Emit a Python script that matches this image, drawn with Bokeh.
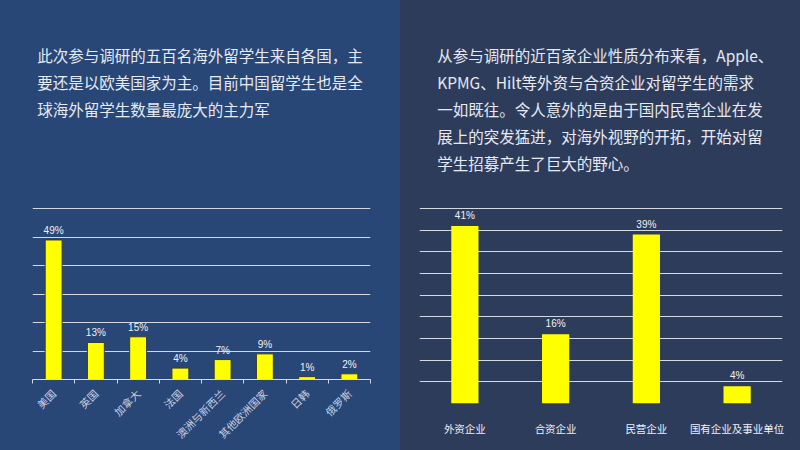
import math
from bokeh.plotting import figure
from bokeh.layouts import row, column
from bokeh.models import Range1d, FactorRange, ColumnDataSource, LabelSet, FixedTicker, SingleIntervalTicker
from bokeh.core.properties import value
from bokeh.embed import file_html
from bokeh.resources import INLINE

# ---------------- data ----------------
left_text = [
    "此次参与调研的五百名海外留学生来自各国，主",
    "要还是以欧美国家为主。目前中国留学生也是全",
    "球海外留学生数量最庞大的主力军",
]
right_text = [
    "从参与调研的近百家企业性质分布来看，Apple、",
    "KPMG、Hilt等外资与合资企业对留学生的需求",
    "一如既往。令人意外的是由于国内民营企业在发",
    "展上的突发猛进，对海外视野的开拓，开始对留",
    "学生招募产生了巨大的野心。",
]
countries = ["美国", "英国", "加拿大", "法国", "澳洲与新西兰", "其他欧洲国家", "日韩", "俄罗斯"]
country_pct = [49, 13, 15, 4, 7, 9, 1, 2]
firm_types = ["外资企业", "合资企业", "民营企业", "国有企业及事业单位"]
firm_pct = [41, 16, 39, 4]

LEFT_BG = "#284676"
RIGHT_BG = "#2e3c5c"
TEXT_C = "#e6eaf2"
GRID_C = "#d4d8e0"
CJK = "Noto Sans CJK SC"
PW = 400
TH, CH = 195, 255  # text area height, chart area height


def text_fig(lines, x0, y0, bg, bl, br):
    # frame is aligned with the chart below (same left/right borders); ranges in panel pixels
    f = figure(width=PW, height=TH, x_range=Range1d(bl, PW - br), y_range=Range1d(TH, 0),
               output_backend="svg", toolbar_location=None,
               min_border_left=bl, min_border_right=br, min_border_top=0, min_border_bottom=0,
               styles={"background-color": bg})
    f.axis.visible = False
    f.grid.visible = False
    f.outline_line_color = None
    f.background_fill_color = bg
    f.border_fill_color = bg
    n = len(lines)
    f.text(x=[x0] * n, y=[y0 + 27 * i for i in range(n)], text=lines,
           text_font=value(CJK), text_font_size="15.5px", text_color=TEXT_C,
           text_baseline="middle", text_align="left")
    return f


def style_chart(f, bg):
    f.outline_line_color = None
    f.background_fill_color = bg
    f.border_fill_color = bg
    f.xgrid.visible = False
    f.ygrid.grid_line_color = GRID_C
    f.ygrid.grid_line_width = 1
    f.yaxis.visible = False


# ---------------- left panel ----------------
LB = dict(l=32, r=30, t=12, b=71)
tl = text_fig(left_text, 36.7, 54, LEFT_BG, LB["l"], LB["r"])

xs = [i + 0.5 for i in range(len(countries))]
src_l = ColumnDataSource(dict(x=xs, y=country_pct, lab=[f"{v}%" for v in country_pct]))
cl = figure(width=PW, height=CH, x_range=Range1d(0, len(countries)), y_range=Range1d(0, 60.4),
            output_backend="svg", toolbar_location=None,
            min_border_left=LB["l"], min_border_right=LB["r"], min_border_top=LB["t"], min_border_bottom=LB["b"],
            styles={"background-color": LEFT_BG})
style_chart(cl, LEFT_BG)
cl.yaxis.ticker = SingleIntervalTicker(interval=10)
cl.ygrid.ticker = SingleIntervalTicker(interval=10)
cl.vbar(x="x", top="y", width=0.4, source=src_l, fill_color="#ffff00", line_color="#3c3c28", line_width=1)
cl.add_layout(LabelSet(x="x", y="y", text="lab", source=src_l, y_offset=4, text_align="center",
                       text_baseline="bottom", text_font=value("Liberation Sans"),
                       text_font_size="10px", text_color="#f2f2f2"))
cl.xaxis.ticker = FixedTicker(ticks=xs, minor_ticks=list(range(len(countries) + 1)))
cl.xaxis.major_label_overrides = {x: c for x, c in zip(xs, countries)}
cl.xaxis.major_tick_line_color = None
cl.xaxis.major_tick_out = 0
cl.xaxis.major_tick_in = 0
cl.xaxis.minor_tick_line_color = GRID_C
cl.xaxis.minor_tick_out = 4
cl.xaxis.minor_tick_in = 0
cl.xaxis.axis_line_color = GRID_C
cl.xaxis.major_label_orientation = math.pi / 4
cl.xaxis.major_label_standoff = 8
cl.xaxis.major_label_text_font = CJK
cl.xaxis.major_label_text_font_size = "10.5px"
cl.xaxis.major_label_text_color = "#c8d0e0"

# ---------------- right panel ----------------
RB = dict(l=19, r=18, t=12, b=47)
tr = text_fig(right_text, 36.7, 54, RIGHT_BG, RB["l"], RB["r"])

src_r = ColumnDataSource(dict(x=firm_types, y=firm_pct, lab=[f"{v}%" for v in firm_pct]))
cr = figure(width=PW, height=CH, x_range=FactorRange(factors=firm_types), y_range=Range1d(0, 45.25),
            output_backend="svg", toolbar_location=None,
            min_border_left=RB["l"], min_border_right=RB["r"], min_border_top=RB["t"], min_border_bottom=RB["b"],
            styles={"background-color": RIGHT_BG})
style_chart(cr, RIGHT_BG)
cr.yaxis.ticker = SingleIntervalTicker(interval=5)
cr.ygrid.ticker = SingleIntervalTicker(interval=5)
cr.vbar(x="x", top="y", width=0.3, source=src_r, fill_color="#ffff00", line_color=None)
cr.add_layout(LabelSet(x="x", y="y", text="lab", source=src_r, y_offset=5, text_align="center",
                       text_baseline="bottom", text_font=value("Liberation Sans"),
                       text_font_size="10px", text_color="#f2f2f2"))
cr.xaxis.axis_line_color = None
cr.xaxis.major_tick_line_color = None
cr.xaxis.minor_tick_line_color = None
cr.xaxis.major_label_standoff = 11
cr.xaxis.major_label_text_font = CJK
cr.xaxis.major_label_text_font_size = "10.5px"
cr.xaxis.major_label_text_color = "#eef0f4"

layout = row(column(tl, cl, styles={"background-color": LEFT_BG}),
             column(tr, cr, styles={"background-color": RIGHT_BG}))

open("out.html", "w").write(file_html(layout, INLINE))
